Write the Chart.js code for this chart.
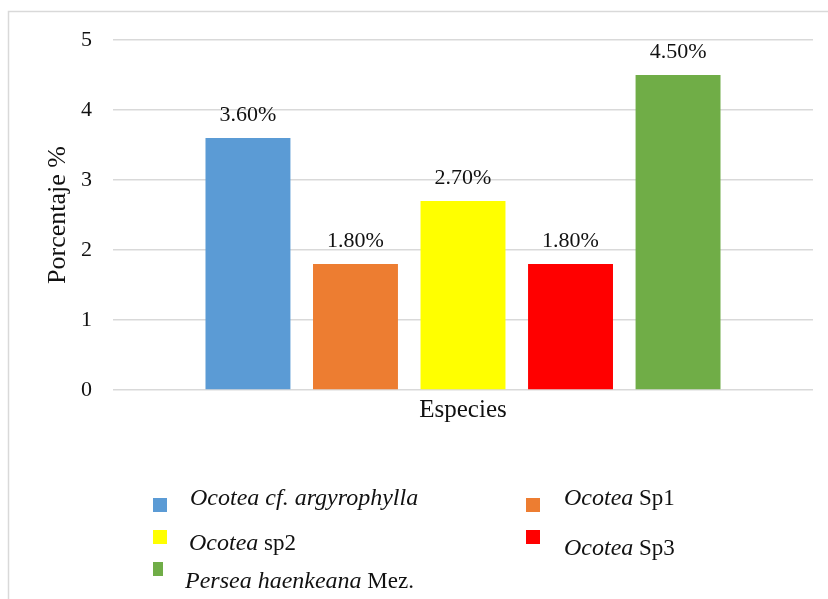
<!DOCTYPE html>
<html>
<head>
<meta charset="utf-8">
<script src="https://cdn.jsdelivr.net/npm/chart.js@4"></script>
<style>
html,body{margin:0;padding:0;background:#fff;}
#wrap{width:828px;height:599px;position:relative;}
</style>
</head>
<body>
<div id="wrap"><canvas id="c" width="828" height="599"></canvas></div>
<script>
// ---- data ----
const categories = ['Especies'];
const speciesItalic = ['Ocotea cf. argyrophylla', 'Ocotea', 'Ocotea', 'Ocotea', 'Persea haenkeana'];
const speciesRoman = ['', ' Sp1', ' sp2', ' Sp3', ' Mez.'];
const values = [3.6, 1.8, 2.7, 1.8, 4.5];
const valueLabels = ['3.60%', '1.80%', '2.70%', '1.80%', '4.50%'];
const colors = ['#5B9BD5', '#ED7D31', '#FFFF00', '#FF0000', '#70AD47'];
const yTicks = [0, 1, 2, 3, 4, 5];

const SERIF = '"Liberation Serif","Times New Roman",serif';
const TXT = '#111111';

const datasets = values.map((v, i) => ({
  label: speciesItalic[i] + speciesRoman[i],
  data: [v],
  backgroundColor: colors[i],
  borderWidth: 0,
  categoryPercentage: 0.768,
  barPercentage: 0.79
}));

// frame around chart
const framePlugin = {
  id: 'frame',
  beforeDraw(chart) {
    const ctx = chart.ctx;
    ctx.save();
    ctx.fillStyle = '#fff';
    ctx.fillRect(0, 0, chart.width, chart.height);
    ctx.strokeStyle = '#d9d9d9';
    ctx.lineWidth = 1.5;
    ctx.beginPath();
    ctx.moveTo(8.5, chart.height + 5);
    ctx.lineTo(8.5, 11.5);
    ctx.lineTo(chart.width + 5, 11.5);
    ctx.stroke();
    ctx.restore();
  }
};

// value labels above bars
const valueLabelPlugin = {
  id: 'valueLabels',
  afterDatasetsDraw(chart) {
    const ctx = chart.ctx;
    ctx.save();
    ctx.font = '22px ' + SERIF;
    ctx.fillStyle = TXT;
    ctx.textAlign = 'center';
    ctx.textBaseline = 'alphabetic';
    chart.data.datasets.forEach((ds, i) => {
      const meta = chart.getDatasetMeta(i);
      meta.data.forEach(bar => {
        ctx.fillText(valueLabels[i], bar.x, bar.y - 17);
      });
    });
    ctx.restore();
  }
};

// custom legend with italic/roman text
const legendPos = [
  {sx: 153, sy: 498, sw: 14, tx: 190, ty: 505},
  {sx: 526, sy: 498, sw: 14, tx: 564, ty: 505},
  {sx: 153, sy: 530, sw: 14, tx: 189, ty: 550},
  {sx: 526, sy: 530, sw: 14, tx: 564, ty: 555},
  {sx: 153, sy: 562, sw: 10, tx: 185, ty: 588}
];
const legendPlugin = {
  id: 'customLegend',
  afterDraw(chart) {
    const ctx = chart.ctx;
    ctx.save();
    ctx.textBaseline = 'alphabetic';
    ctx.textAlign = 'left';
    chart.data.datasets.forEach((ds, i) => {
      const p = legendPos[i];
      ctx.fillStyle = ds.backgroundColor;
      ctx.fillRect(p.sx, p.sy, p.sw, 14);
      ctx.fillStyle = TXT;
      ctx.font = 'italic 24px ' + SERIF;
      ctx.fillText(speciesItalic[i], p.tx, p.ty);
      const w = ctx.measureText(speciesItalic[i]).width;
      if (speciesRoman[i]) {
        ctx.font = '23px ' + SERIF;
        ctx.fillText(speciesRoman[i], p.tx + w, p.ty);
      }
    });
    ctx.restore();
  }
};

new Chart(document.getElementById('c'), {
  type: 'bar',
  data: { labels: categories, datasets: datasets },
  plugins: [framePlugin, valueLabelPlugin, legendPlugin],
  options: {
    responsive: false,
    animation: false,
    events: [],
    layout: { padding: { left: 0, right: 15, top: 40, bottom: 0 } },
    plugins: {
      legend: { display: false },
      tooltip: { enabled: false },
      title: { display: false }
    },
    scales: {
      x: {
        grid: { display: false, drawTicks: false },
        border: { display: false },
        ticks: {
          font: { family: SERIF, size: 25 },
          color: TXT,
          padding: 5
        },
        afterFit(s) { s.height = 209; }
      },
      y: {
        min: 0,
        max: 5,
        afterBuildTicks(s) { s.ticks = yTicks.map(v => ({ value: v })); },
        grid: { color: '#d9d9d9', lineWidth: 1.5, drawTicks: false },
        border: { display: false },
        ticks: {
          font: { family: SERIF, size: 22 },
          color: TXT,
          padding: 21
        },
        title: {
          display: true,
          text: 'Porcentaje %',
          font: { family: SERIF, size: 26 },
          color: TXT,
          padding: { top: 43, bottom: 0 }
        },
        afterFit(s) { s.width = 113; }
      }
    }
  }
});
</script>
</body>
</html>
